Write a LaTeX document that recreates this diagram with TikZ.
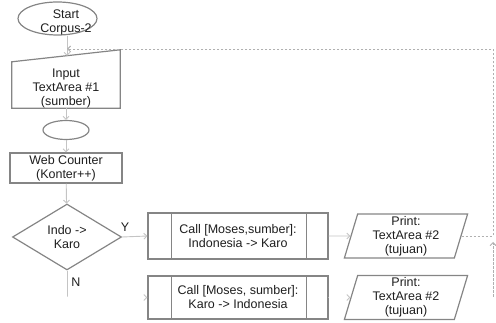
\documentclass[tikz,border=0pt]{standalone}
\usepackage{fontspec}
\setmainfont{Liberation Sans}
\usetikzlibrary{shapes.geometric,arrows.meta,calc,positioning}
\definecolor{boxgray}{HTML}{858585}
\definecolor{linegray}{HTML}{C4C4C4}
\definecolor{txtgray}{HTML}{1E1E1E}
\tikzset{
    flow/.style={draw=linegray, line width=0.9pt, -{Straight Barb[length=3pt,width=6pt]}},
    line/.style={draw=linegray, line width=0.9pt},
    ghost/.style={draw=white, line width=0.9pt, -{Straight Barb[length=3pt,width=6pt,color=linegray]}},
    back/.style={flow, draw=linegray!90!black, dash pattern=on 2.5pt off 1.5pt},
    shp/.style={draw=boxgray, line width=1.2pt},
    txt/.style={align=center, text=txtgray, font=\fontsize{12.5}{14}\selectfont, inner sep=0pt},
    term/.style={ellipse, shp, minimum width=79pt, minimum height=33pt},
    conn/.style={ellipse, shp, minimum width=46pt, minimum height=19pt},
    proc/.style={rectangle, shp, txt, minimum width=112pt, minimum height=30pt},
    subproc/.style={rectangle, shp, txt, minimum width=180pt},
    dec/.style={diamond, shp, txt, aspect=2, minimum width=109pt, minimum height=66pt},
    io/.style={trapezium, trapezium left angle=77, trapezium right angle=103,
        trapezium stretches=true, shp, txt, minimum width=124pt, minimum height=44pt},
    el/.style={txt}
}
\begin{document}
\begin{tikzpicture}[x=1pt, y=-1pt]
    \useasboundingbox (0,0) rectangle (496,323);

    \node[term] (start) at (57.5,18.5) {};
    \node[txt] (startlbl) at (66,22) {Start\\Corpus-2};
    \node[txt, minimum width=108pt, minimum height=40pt] (inp) at (66,88) {Input\\TextArea \#1\\(sumber)};
    \draw[shp] (inp.south west) -- (inp.south east) -- ($(inp.north east)+(0,-18)$) -- ($(inp.north west)+(0,-6)$) -- cycle;
    \node[conn] (con) at (66,130) {};
    \node[proc] (web) at (66,168) {Web Counter\\(Konter++)};
    \node[dec] (dia) at (67,237) {Indo -\textgreater\\Karo};
    \node[subproc, minimum height=46pt] (call1) at (238,236) {Call [Moses,sumber]:\\Indonesia -\textgreater{} Karo};
    \node[subproc, minimum height=43pt] (call2) at (238,297.5) {Call [Moses, sumber]:\\Karo -\textgreater{} Indonesia};
    \foreach \c in {call1,call2} {
        \draw[shp] ($(\c.north west)+(24,0)$) -- ($(\c.south west)+(24,0)$);
        \draw[shp] ($(\c.north east)+(-22,0)$) -- ($(\c.south east)+(-22,0)$);
    }
    \node[io] (print1) at (406,236) {Print:\\TextArea \#2\\(tujuan)};
    \node[io] (print2) at (406,297.5) {Print:\\TextArea \#2\\(tujuan)};

    \node[el] (ylbl) at (125,227) {Y};
    \node[el] (nlbl) at (76,282) {N};

    \coordinate (join) at (67,49);
    \coordinate (corner) at (493,49);
    \coordinate (ndown) at (67,297);
    \coordinate (lowfoot) at (493,297);
    \coordinate (lowtip) at (493,242);

    \draw[flow] (start.south -| join) -- ($(join)+(0,7)$);
    \draw[flow] (inp.south -| con) -- (con);
    \draw[flow] (con) -- (web);
    \draw[flow] (web) -- (dia);
    \draw[flow] (dia.east) -- (call1.west);
    \draw[flow] (call1.east) -- (print1.west);
    \draw[line] (dia.south) -- (ndown);
    \draw[ghost] (ndown) -- (call2.west);
    \draw[ghost] (call2.east) -- (print2.west);
    \draw[back] (print1.east) -| (corner) -- (join);
    \draw[back] (lowfoot) -- (lowtip);
\end{tikzpicture}
\end{document}
